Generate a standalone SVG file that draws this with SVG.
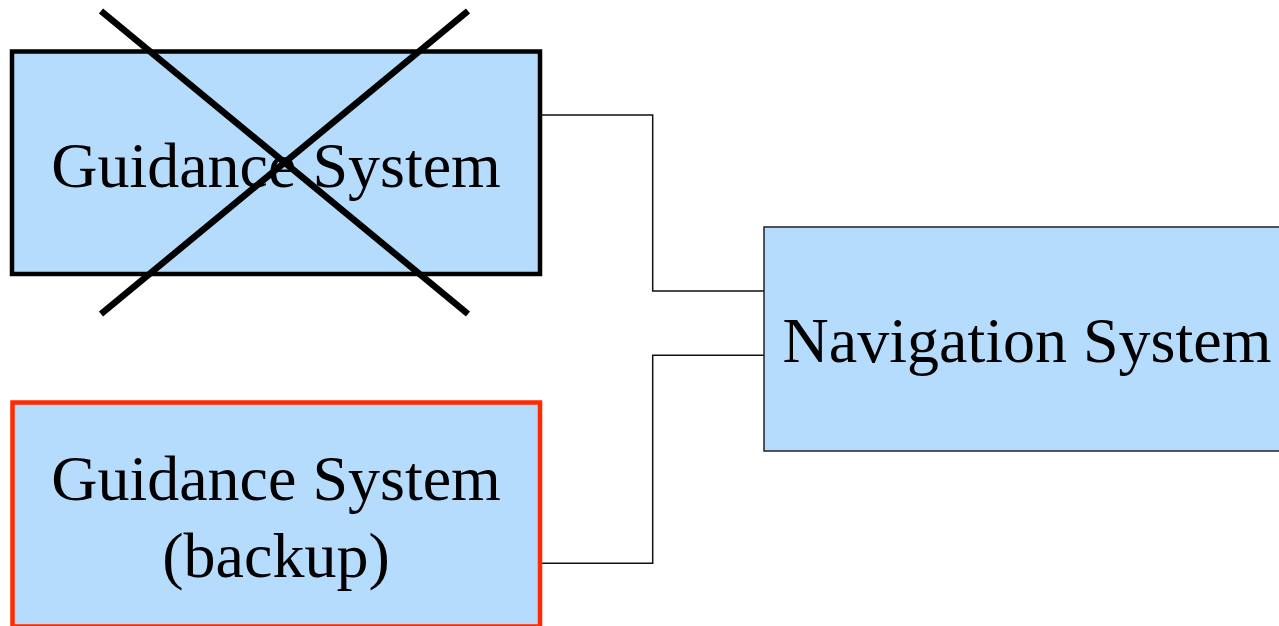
<svg xmlns="http://www.w3.org/2000/svg" width="1279" height="626" viewBox="0 0 1279 626">
  <style>
    .box { fill: #b5dbfd; }
    .label { font-family: "Liberation Serif", "Times New Roman", serif; font-size: 64px; fill: #000; text-anchor: middle; }
    .wire { fill: none; stroke: #111; stroke-width: 1.5; }
    .cross { stroke: #000; stroke-width: 6.5; }
  </style>
  <rect width="1279" height="626" fill="#fff"/>

  <g id="connectors">
    <polyline class="wire" points="540,115 652.7,115 652.7,291 764,291"/>
    <polyline class="wire" points="764,355.3 652.7,355.3 652.7,563.3 540,563.3"/>
  </g>

  <g id="guidance">
    <rect class="box" x="12" y="51.5" width="528" height="222.5" stroke="#000" stroke-width="4.5"/>
    <text class="label" x="276" y="187">Guidance System</text>
    <line class="cross" x1="101" y1="11" x2="468" y2="314"/>
    <line class="cross" x1="101" y1="314" x2="468" y2="11"/>
  </g>

  <g id="guidance-backup">
    <rect class="box" x="12.5" y="402.5" width="527.5" height="224" stroke="#ff2a00" stroke-width="4.5"/>
    <text class="label" x="276" y="500">Guidance System</text>
    <text class="label" x="276" y="577">(backup)</text>
  </g>

  <g id="navigation">
    <rect class="box" x="764" y="227" width="530" height="224" stroke="#222" stroke-width="1.5"/>
    <text class="label" x="1027" y="362">Navigation System</text>
  </g>
</svg>
